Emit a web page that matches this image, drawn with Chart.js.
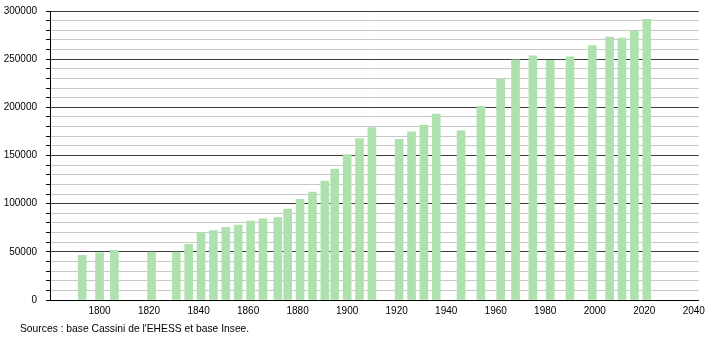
<!DOCTYPE html>
<html>
<head>
<meta charset="utf-8">
<script src="https://cdn.jsdelivr.net/npm/chart.js@4.4.0/dist/chart.umd.min.js"></script>
<style>
  body { margin: 0; background: #fff; }
  #wrap { position: relative; width: 710px; height: 340px; }
  #source { position: absolute; left: 20px; top: 323px; font: 10.3px "Liberation Sans", Arial, sans-serif; color: #000; white-space: nowrap; }
</style>
</head>
<body>
<div id="wrap">
  <canvas id="popChart" width="710" height="340"></canvas>
  <div id="source">Sources : base Cassini de l'EHESS et base Insee.</div>
</div>
<script>
// census years and population
const years = [1793, 1800, 1806, 1821, 1831, 1836, 1841, 1846, 1851, 1856, 1861, 1866, 1872, 1876,
  1881, 1886, 1891, 1895, 1900, 1905, 1910, 1921, 1926, 1931, 1936, 1946, 1954, 1962, 1968, 1975,
  1982, 1990, 1999, 2006, 2011, 2016, 2021];
const population = [46500, 49056, 51465, 49708, 49712, 57885, 70298, 71992, 75565, 77656, 82014, 84167, 85654, 94306,
  104471, 111987, 123500, 135608, 151041, 167678, 178891, 166767, 174492, 181465, 193119, 175515, 200921, 228971, 249396, 253384,
  248712, 252338, 264115, 272975, 271782, 279284, 291313];
const xTicks = [1800, 1820, 1840, 1860, 1880, 1900, 1920, 1940, 1960, 1980, 2000, 2020, 2040];
const yMajorStep = 50000;
const yMinorStep = 10000;

const points = years.map((y, i) => ({ x: y, y: population[i] }));
const tickFont = { family: '"Liberation Sans", Arial, sans-serif', size: 10 };

new Chart(document.getElementById('popChart').getContext('2d'), {
  type: 'bar',
  data: {
    datasets: [{
      data: points,
      backgroundColor: 'rgb(174,225,174)',
      borderWidth: 0,
      barThickness: 8
    }]
  },
  options: {
    responsive: false,
    animation: false,
    devicePixelRatio: 1,
    layout: { padding: { top: 11, right: 9, bottom: 0, left: 0 } },
    plugins: { legend: { display: false }, tooltip: { enabled: false } },
    scales: {
      x: {
        type: 'linear',
        min: 1780,
        max: 2042,
        offset: false,
        afterBuildTicks: (axis) => { axis.ticks = xTicks.map(v => ({ value: v })); },
        afterFit: (axis) => { axis.height = 40; },
        grid: { display: false, drawTicks: false },
        border: { display: true, color: '#000', width: 1 },
        ticks: { color: '#000', font: tickFont, padding: 5, autoSkip: false, maxRotation: 0,
          callback: (v) => String(v) }
      },
      y: {
        min: 0,
        max: 300000,
        afterFit: (axis) => {
          axis.width = 50;
          axis.paddingTop = 0;   // tick padding otherwise pushes the plot down
          axis.paddingBottom = 0;
        },
        border: { display: true, color: '#000', width: 1 },
        grid: {
          color: (ctx) => (ctx.tick && ctx.tick.value % yMajorStep === 0) ? '#3a3a3a' : '#c8c8c8',
          tickColor: '#000',
          tickLength: 4,
          lineWidth: 1
        },
        ticks: {
          stepSize: yMinorStep,
          autoSkip: false,
          color: '#000',
          font: tickFont,
          padding: 9,
          callback: (v) => (v % yMajorStep === 0 ? String(v) : '')
        }
      }
    }
  }
});
</script>
</body>
</html>
